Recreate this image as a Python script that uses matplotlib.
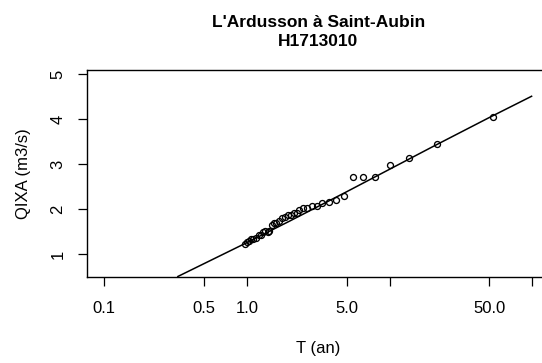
import matplotlib
matplotlib.use("Agg")
import matplotlib.pyplot as plt
from matplotlib.ticker import FixedLocator, FixedFormatter, NullLocator

plt.rcParams['font.family'] = ['Liberation Sans', 'DejaVu Sans']

title_lines = ["L'Ardusson à Saint-Aubin", "H1713010"]
xlabel = "T (an)"
ylabel = "QIXA (m3/s)"

# observed sample (return period T, discharge Q)
obs_T = [0.97, 1.01, 1.04, 1.07, 1.11, 1.15, 1.22, 1.26, 1.30, 1.34, 1.40, 1.44,
         1.50, 1.54, 1.61, 1.67, 1.77, 1.84, 1.94, 2.03, 2.13, 2.25, 2.31, 2.47,
         2.63, 2.84, 3.09, 3.36, 3.76, 4.20, 4.83, 5.55, 6.50, 7.86, 10.1, 13.6,
         21.6, 52.7]
obs_Q = [1.24, 1.27, 1.30, 1.33, 1.35, 1.37, 1.43, 1.44, 1.49, 1.52, 1.50, 1.52,
         1.66, 1.70, 1.70, 1.74, 1.80, 1.82, 1.87, 1.87, 1.91, 1.91, 1.99, 2.02,
         2.02, 2.07, 2.07, 2.13, 2.17, 2.21, 2.29, 2.72, 2.72, 2.72, 2.98, 3.13,
         3.46, 4.05]

# fitted curve
fit_T = [0.325, 1.0, 2.0, 5.0, 10.0, 20.0, 50.0, 100.0]
fit_Q = [0.50, 1.26, 1.74, 2.39, 2.89, 3.39, 4.04, 4.52]

xticks = [0.1, 0.5, 1.0, 5.0, 10.0, 50.0, 100.0]
xticklabels = ["0.1", "0.5", "1.0", "5.0", "", "50.0", ""]
yticks = [1, 2, 3, 4, 5]
yticklabels = ["1", "2", "3", "4", "5"]

W, H = 542, 363
fig = plt.figure(figsize=(W / 100, H / 100), dpi=100)
left, right, top, bottom = 87, 549.4, 70, 277
ax = fig.add_axes([left / W, 1 - bottom / H, (right - left) / W, (bottom - top) / H])

ax.plot(fit_T, fit_Q, color='black', lw=1.1, solid_capstyle='butt', clip_on=True)
ax.plot(obs_T, obs_Q, linestyle='none', marker='o', markersize=4.3,
        markerfacecolor='none', markeredgecolor='black', markeredgewidth=0.95)

ax.set_xscale('log')
ax.set_xlim(10 ** -1.12, 10 ** 2.12)
ax.set_ylim(0.496, 5.096)

ax.xaxis.set_major_locator(FixedLocator(xticks))
ax.xaxis.set_major_formatter(FixedFormatter(xticklabels))
ax.xaxis.set_minor_locator(NullLocator())
ax.yaxis.set_major_locator(FixedLocator(yticks))
ax.yaxis.set_major_formatter(FixedFormatter(yticklabels))

ax.tick_params(axis='both', direction='out', length=6.5, width=0.9, colors='black',
               labelsize=12)
ax.tick_params(axis='x', pad=11)
ax.tick_params(axis='y', pad=9)
for lab in ax.get_yticklabels():
    lab.set_rotation(90)
    lab.set_va('center')

for s in ['left', 'top', 'bottom', 'right']:
    ax.spines[s].set_linewidth(1.0)
    ax.spines[s].set_color('black')

cx = (left + right) / 2 / W
fig.text(cx, 1 - 27 / H, title_lines[0], ha='center', va='baseline',
         fontsize=12.5, fontweight='bold')
fig.text(cx, 1 - 46.5 / H, title_lines[1], ha='center', va='baseline',
         fontsize=12.5, fontweight='bold')
fig.text(cx, 1 - 349 / H, xlabel, ha='center', va='center', fontsize=12)
fig.text(24 / W, 1 - ((top + bottom) / 2) / H, ylabel, ha='center', va='center',
         fontsize=12, rotation=90)

fig.savefig('out.png', dpi=100)
